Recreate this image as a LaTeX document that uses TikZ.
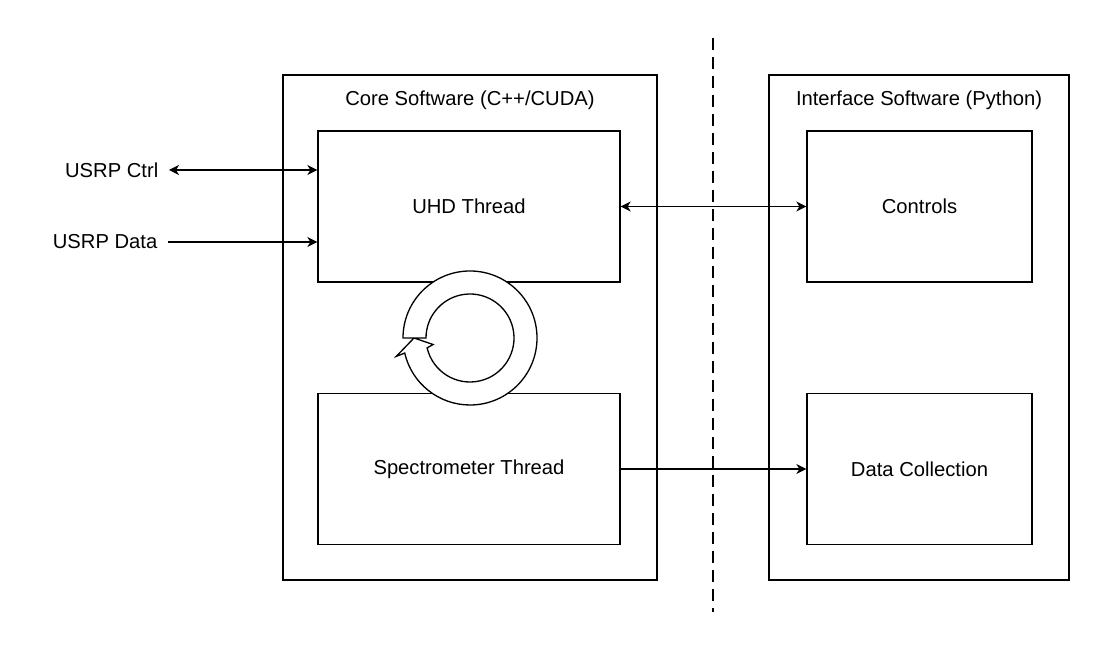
\documentclass[tikz,border=0pt]{standalone}
\usepackage{fontspec}
\setmainfont{Liberation Sans}
\usetikzlibrary{arrows.meta, positioning}

\begin{document}
\begin{tikzpicture}[font=\fontsize{11.5}{14}\selectfont, line width=0.75pt,
    outerbox/.style={draw, minimum height=10.1cm},
    threadbox/.style={draw, minimum height=3.02cm},
    arr/.style={-{Stealth[length=0.2cm, width=0.2cm, inset=0.06cm]}},
    darr/.style={{Stealth[length=0.2cm, width=0.2cm, inset=0.06cm]}-{Stealth[length=0.2cm, width=0.2cm, inset=0.06cm]}}]
    \useasboundingbox (0,0) rectangle (22.12,13.14);

    % --- Core software (C++/CUDA) ---
    \node[outerbox, minimum width=7.48cm] (core) at (9.40, 6.59) {};
    \node (coretitle) at (9.40, 11.14) {Core Software (C++/CUDA)};
    \node[threadbox, minimum width=6.04cm] (uhd) at (9.38, 9.01) {UHD Thread};
    \node[threadbox, minimum width=6.04cm] (spec) at (9.38, 3.76) {Spectrometer Thread};

    % --- Interface software (Python) ---
    \node[outerbox, minimum width=6.0cm] (iface) at (18.38, 6.59) {};
    \node (ifacetitle) at (18.38, 11.14) {Interface Software (Python)};
    \node[threadbox, minimum width=4.5cm] (controls) at (18.39, 9.01) {Controls};
    \node[threadbox, minimum width=4.5cm] (datacoll) at (18.39, 3.76) {Data Collection};

    % --- Boundary between both sides ---
    \coordinate (bndtop) at (14.26, 12.38);
    \coordinate (bndbot) at (14.26, 0.90);
    \draw[dash pattern=on 0.24cm off 0.14cm] (bndtop) -- (bndbot);

    % --- USRP links ---
    \node[anchor=east, inner xsep=0.2cm] (usrpctrl) at (3.38, 9.74) {USRP Ctrl};
    \node[anchor=east, inner xsep=0.2cm] (usrpdata) at (3.36, 8.30) {USRP Data};
    \draw[darr] (usrpctrl) -- (usrpctrl -| uhd.west);
    \draw[arr] (usrpdata) -- (usrpdata -| uhd.west);

    % --- Links to the interface ---
    \draw[darr] (uhd) -- (controls);
    \draw[arr] (spec) -- (datacoll);

    % --- Thread loop ---
    \coordinate (loop) at (9.40, 6.38);
    \draw[fill=white] ([shift={(180:1.34)}]loop) arc[start angle=180, end angle=-167, radius=1.34]
        -- ([shift={(-166:1.52)}]loop) -- ([shift={(180:1.12)}]loop)
        -- ([shift={(-170:0.75)}]loop) -- ([shift={(-167:0.88)}]loop)
        arc[start angle=-167, end angle=180, radius=0.88] -- cycle;
\end{tikzpicture}
\end{document}
